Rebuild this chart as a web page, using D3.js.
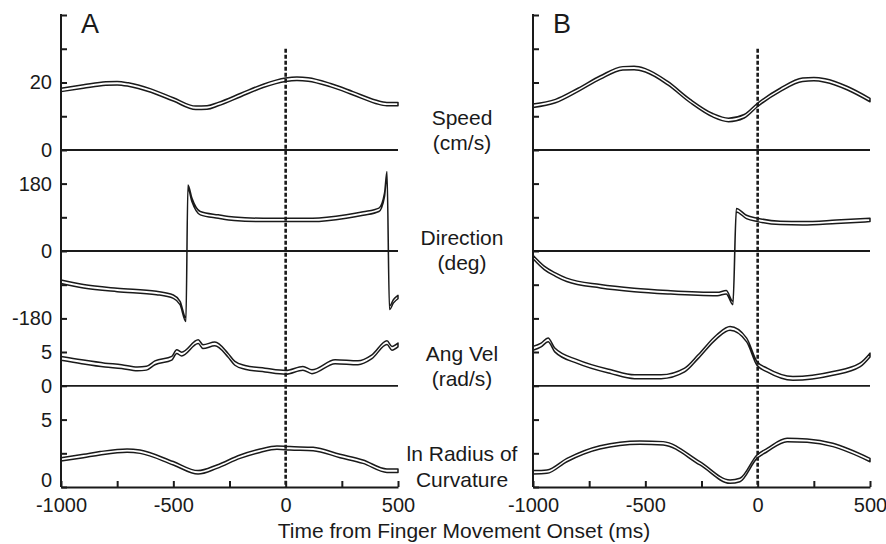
<!DOCTYPE html>
<html lang="en">
<head>
  <meta charset="UTF-8">
  <title>Finger movement kinematics</title>
  <script src="https://cdn.jsdelivr.net/npm/d3@7"></script>
  <style>
    body { margin: 0; background: #fff; }
    text { font-family: "Liberation Sans", Arial, sans-serif; fill: #1a1a1a; }
  </style>
</head>
<body>
<script>
  // time axis
  const timeTicks = [-1000, -750, -500, -250, 0, 250, 500];
  const timeLabels = [-1000, -500, 0, 500];

  // [time (ms), value]
  const speedA = [[-1000,17.8],[-900,18.8],[-800,19.7],[-750,19.8],[-700,19.4],[-600,17.6],[-500,15.0],[-400,12.5],[-350,12.6],[-300,13.6],[-200,16.3],[-100,19.0],[0,20.8],[50,21.1],[100,20.9],[200,19.2],[300,16.8],[400,14.3],[450,13.6],[500,13.6]];
  const speedB = [[-1000,13.1],[-900,14.5],[-800,17.8],[-700,21.5],[-600,24.2],[-550,24.3],[-500,23.6],[-400,19.8],[-300,14.5],[-200,10.3],[-130,8.9],[-60,10.0],[0,13.4],[100,17.8],[200,20.8],[250,21.0],[300,20.6],[400,18.3],[500,14.8]];

  const dirA = [[-1000,-82],[-900,-94],[-750,-104],[-575,-112],[-500,-122],[-470,-139],[-444,-184],[-435,172],[-417,136],[-380,101],[-300,92],[-230,86],[-100,83],[0,83],[120,83],[270,92],[345,100],[415,110],[440,150],[451,208],[462,-152],[480,-134],[500,-123]];
  const dirB = [[-1000,-16],[-950,-45],[-900,-63],[-850,-77],[-700,-94],[-550,-104],[-400,-110],[-180,-115],[-140,-110],[-110,-139],[-95,109],[-50,91],[0,83],[100,75],[200,74],[350,78],[500,83]];

  const angVelA = [[-1000,4.07],[-908,3.56],[-804,3.07],[-730,2.85],[-660,2.5],[-620,2.6],[-582,3.4],[-507,4.07],[-485,5.05],[-463,4.7],[-389,6.53],[-368,5.79],[-315,6.19],[-257,4.55],[-226,3.32],[-181,2.73],[-92,2.33],[0,1.99],[77,2.58],[117,2.08],[220,3.56],[322,3.41],[384,4.3],[451,6.38],[473,5.55],[500,6.04]];
  const angVelB = [[-1000,5.55],[-964,6.04],[-933,6.78],[-903,5.3],[-800,3.56],[-653,2.08],[-548,1.34],[-430,1.34],[-325,2.33],[-265,4.3],[-182,7.27],[-123,8.5],[-49,6.78],[-3,3.32],[42,2.33],[157,1.1],[335,1.84],[455,3.07],[500,4.55]];

  const curvA = [[-1000,2.05],[-900,2.3],[-826,2.5],[-706,2.7],[-648,2.62],[-500,1.76],[-390,1.09],[-306,1.51],[-203,2.25],[-114,2.69],[-39,2.92],[19,2.87],[122,2.82],[242,2.3],[344,1.88],[451,1.21],[500,1.21]];
  const curvB = [[-1000,1.09],[-938,1.14],[-849,2.0],[-702,2.94],[-524,3.29],[-421,3.24],[-257,1.76],[-123,0.4],[-79,0.52],[-3,2.25],[42,2.74],[131,3.49],[220,3.44],[335,3.12],[500,2.0]];

  const width = 886;
  const height = 544;

  // stacked rows, shared by both panels
  const rows = [
    {domain: [0, 40], range: [150, 15], ticks: [0, 10, 20, 30, 40], labels: [0, 20], zero: true,
     name: ['Speed', '(cm/s)'], nameY: [125, 150], band: 1.7},
    {domain: [-180, 180], range: [318.4, 183.6], ticks: [-180, -90, 0, 90, 180], labels: [-180, 0, 180], zero: true,
     name: ['Direction', '(deg)'], nameY: [245, 270], band: 1.7},
    {domain: [0, 5], range: [385.8, 352], ticks: [0, 5], labels: [0, 5], zero: true,
     name: ['Ang Vel', '(rad/s)'], nameY: [361, 386], band: 1.9},
    {domain: [0, 5], range: [487, 419.6], ticks: [0, 2.5, 5], labels: [0, 5], zero: false,
     name: ['ln Radius of', 'Curvature'], nameY: [461, 487], band: 1.7}
  ];
  rows.forEach(r => { r.y = d3.scaleLinear().domain(r.domain).range(r.range); });

  const panels = [
    {letter: 'A', left: 61, right: 398, showLabels: true, series: [speedA, dirA, angVelA, curvA]},
    {letter: 'B', left: 533, right: 870, showLabels: false, series: [speedB, dirB, angVelB, curvB]}
  ];

  const svg = d3.select('body').append('svg').attr('width', width).attr('height', height);

  panels.forEach(p => {
    const x = d3.scaleLinear().domain([-1000, 500]).range([p.left, p.right]);
    const g = svg.append('g');

    // zero lines
    rows.filter(r => r.zero).forEach(r => {
      g.append('line')
        .attr('x1', x(-1000)).attr('x2', x(500))
        .attr('y1', r.y(0)).attr('y2', r.y(0))
        .attr('stroke', '#1a1a1a').attr('stroke-width', 1.8);
    });

    // double-line traces
    rows.forEach((r, i) => {
      const area = d3.area()
        .curve(d3.curveMonotoneX)
        .x(d => x(d[0]))
        .y0(d => r.y(d[1]) + r.band)
        .y1(d => r.y(d[1]) - r.band);
      g.append('path')
        .datum(p.series[i])
        .attr('d', area)
        .attr('fill', '#fff')
        .attr('stroke', '#1a1a1a')
        .attr('stroke-width', 1.5)
        .attr('stroke-linejoin', 'round');
    });

    // y axes per row
    rows.forEach((r, i) => {
      g.append('g')
        .attr('transform', `translate(${p.left},0)`)
        .call(d3.axisLeft(r.y).tickValues(r.ticks).tickSize(-6).tickPadding(9)
          .tickFormat(d => p.showLabels && r.labels.includes(d) ? d : ''))
        .call(a => a.select('.domain').remove())
        .call(a => a.selectAll('line').attr('stroke', '#1a1a1a').attr('stroke-width', 2))
        .call(a => a.selectAll('text').style('font-size', '20px').attr('fill', '#1a1a1a')
          .attr('dy', d => (i === 3 && d === 0) ? '-0.05em' : '0.32em'));
    });
    g.append('line')
      .attr('x1', p.left).attr('x2', p.left)
      .attr('y1', rows[0].y(40) - 1).attr('y2', rows[3].y(0))
      .attr('stroke', '#1a1a1a').attr('stroke-width', 2);

    // x axis
    g.append('g')
      .attr('transform', `translate(0,${rows[3].y(0)})`)
      .call(d3.axisBottom(x).tickValues(timeTicks).tickSize(-6).tickSizeOuter(0).tickPadding(11)
        .tickFormat(d => timeLabels.includes(d) ? d : ''))
      .call(a => a.select('.domain').attr('stroke', '#1a1a1a').attr('stroke-width', 2.2))
      .call(a => a.selectAll('line').attr('stroke', '#1a1a1a').attr('stroke-width', 2))
      .call(a => a.selectAll('text').style('font-size', '20px').attr('fill', '#1a1a1a'));

    // movement onset
    g.append('line')
      .attr('x1', x(0)).attr('x2', x(0))
      .attr('y1', rows[0].y(30)).attr('y2', rows[3].y(0))
      .attr('stroke', '#1a1a1a').attr('stroke-width', 2.6)
      .attr('stroke-dasharray', '4,2');

    // panel letter
    g.append('text')
      .attr('x', p.left + 20).attr('y', 33)
      .style('font-size', '27px')
      .text(p.letter);
  });

  // row names between the panels
  rows.forEach(r => {
    r.name.forEach((t, j) => {
      svg.append('text')
        .attr('x', 462).attr('y', r.nameY[j])
        .attr('text-anchor', 'middle')
        .style('font-size', '21px')
        .text(t);
    });
  });

  svg.append('text')
    .attr('x', 464).attr('y', 538)
    .attr('text-anchor', 'middle')
    .style('font-size', '21px')
    .text('Time from Finger Movement Onset (ms)');
</script>
</body>
</html>
